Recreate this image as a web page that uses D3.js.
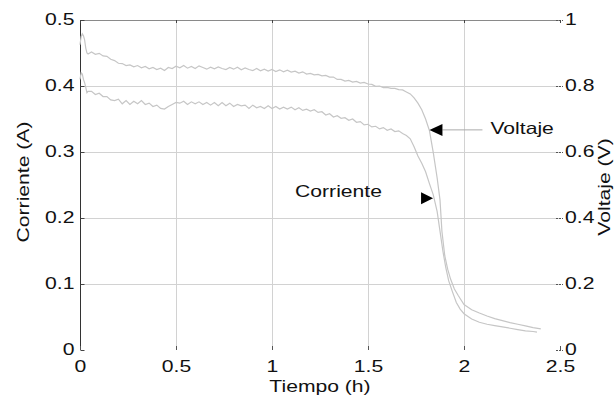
<!DOCTYPE html>
<html>
<head>
<meta charset="utf-8">
<script src="https://cdn.jsdelivr.net/npm/d3@7"></script>
<style>
  html, body { margin: 0; padding: 0; background: #fff; }
  svg { display: block; font-family: "Liberation Sans", Arial, sans-serif; }
</style>
</head>
<body>
<svg id="chart" width="614" height="400"></svg>
<script>
// Battery discharge test: current (left axis) and voltage (right axis) vs. time

const timeTicks = [0, 0.5, 1, 1.5, 2, 2.5];
const currentTicks = [0, 0.1, 0.2, 0.3, 0.4, 0.5];
const voltageTicks = [0, 0.2, 0.4, 0.6, 0.8, 1];

const voltTime = [0, 0.006, 0.012, 0.018, 0.024, 0.03, 0.036, 0.042, 0.06, 0.08, 0.10, 0.12, 0.14, 0.16, 0.18, 0.20, 0.22, 0.24, 0.26, 0.28, 0.30, 0.32, 0.34, 0.36, 0.38, 0.40, 0.42, 0.44, 0.46, 0.48, 0.50, 0.52, 0.54, 0.56, 0.58, 0.60, 0.62, 0.64, 0.66, 0.68, 0.70, 0.72, 0.74, 0.76, 0.78, 0.80, 0.82, 0.84, 0.86, 0.88, 0.90, 0.92, 0.94, 0.96, 0.98, 1.00, 1.02, 1.04, 1.06, 1.08, 1.10, 1.12, 1.14, 1.16, 1.18, 1.20, 1.22, 1.24, 1.26, 1.28, 1.30, 1.32, 1.34, 1.36, 1.38, 1.40, 1.42, 1.44, 1.46, 1.48, 1.50, 1.52, 1.54, 1.56, 1.58, 1.60, 1.62, 1.64, 1.66, 1.68, 1.70, 1.72, 1.74, 1.76, 1.78, 1.80, 1.82, 1.84, 1.86, 1.875, 1.885, 1.90, 1.915, 1.93, 1.95, 1.97, 2.00, 2.04, 2.08, 2.12, 2.16, 2.20, 2.24, 2.28, 2.32, 2.36, 2.40];
const voltValue = [0.925, 0.95, 0.958, 0.952, 0.94, 0.915, 0.9, 0.897,
  0.903, 0.896, 0.899, 0.891, 0.89, 0.881, 0.877, 0.869, 0.868, 0.862, 0.864, 0.858, 0.862, 0.855, 0.859, 0.852, 0.856, 0.85, 0.854, 0.847,
  0.856, 0.853, 0.86, 0.855, 0.862, 0.854, 0.859, 0.853, 0.861, 0.856, 0.851, 0.857, 0.852, 0.858, 0.853, 0.85, 0.856, 0.851, 0.857, 0.849,
  0.855, 0.85, 0.847, 0.853, 0.846, 0.851, 0.845, 0.85, 0.844, 0.849, 0.843, 0.848, 0.842, 0.845, 0.839, 0.843, 0.836, 0.838, 0.834, 0.835,
  0.831, 0.832, 0.827, 0.827, 0.82, 0.82, 0.815, 0.817, 0.812, 0.814, 0.809, 0.811, 0.806, 0.805, 0.799, 0.8, 0.795, 0.796, 0.793, 0.793,
  0.789, 0.788, 0.782,
  0.776, 0.764, 0.748, 0.728, 0.7, 0.665, 0.598, 0.522, 0.455, 0.36, 0.285, 0.245, 0.215, 0.185, 0.165, 0.138, 0.122, 0.112, 0.103, 0.095, 0.089, 0.083, 0.078, 0.073, 0.068, 0.064];

const currTime = [0, 0.006, 0.012, 0.018, 0.024, 0.03, 0.036, 0.042, 0.06, 0.08, 0.10, 0.12, 0.14, 0.16, 0.18, 0.20, 0.22, 0.24, 0.26, 0.28, 0.30, 0.32, 0.34, 0.36, 0.38, 0.40, 0.42, 0.44, 0.46, 0.48, 0.50, 0.52, 0.54, 0.56, 0.58, 0.60, 0.62, 0.64, 0.66, 0.68, 0.70, 0.72, 0.74, 0.76, 0.78, 0.80, 0.82, 0.84, 0.86, 0.88, 0.90, 0.92, 0.94, 0.96, 0.98, 1.00, 1.02, 1.04, 1.06, 1.08, 1.10, 1.12, 1.14, 1.16, 1.18, 1.20, 1.22, 1.24, 1.26, 1.28, 1.30, 1.32, 1.34, 1.36, 1.38, 1.40, 1.42, 1.44, 1.46, 1.48, 1.50, 1.52, 1.54, 1.56, 1.58, 1.60, 1.62, 1.64, 1.66, 1.68, 1.70, 1.72, 1.74, 1.76, 1.78, 1.80, 1.82, 1.84, 1.86, 1.875, 1.89, 1.905, 1.92, 1.94, 1.96, 1.98, 2.00, 2.04, 2.08, 2.12, 2.16, 2.20, 2.24, 2.28, 2.32, 2.36, 2.38];
const currValue = [0.41, 0.42, 0.418, 0.41, 0.405, 0.398, 0.39, 0.392,
  0.392, 0.387, 0.389, 0.384, 0.384, 0.379, 0.378, 0.38, 0.373, 0.378, 0.372, 0.377, 0.373, 0.378, 0.372, 0.374, 0.369, 0.371, 0.366, 0.365,
  0.369, 0.372, 0.375, 0.374, 0.377, 0.372, 0.376, 0.373, 0.376, 0.372, 0.375, 0.371, 0.375, 0.37, 0.375, 0.37, 0.374, 0.369, 0.372, 0.37,
  0.371, 0.366, 0.371, 0.367, 0.369, 0.366, 0.37, 0.366, 0.369, 0.365, 0.368, 0.365, 0.368, 0.364, 0.367, 0.363, 0.365, 0.362, 0.364, 0.36,
  0.361, 0.356, 0.358, 0.353, 0.355, 0.351, 0.352, 0.348, 0.35, 0.345, 0.346, 0.341, 0.342, 0.338, 0.339, 0.335, 0.337, 0.333, 0.335, 0.331,
  0.332, 0.328, 0.325,
  0.32, 0.308, 0.294, 0.283, 0.27, 0.252, 0.235, 0.21, 0.18, 0.15, 0.125, 0.105, 0.088, 0.072, 0.062, 0.055, 0.047, 0.042, 0.039, 0.037, 0.035, 0.033, 0.031, 0.029, 0.028, 0.027];

const svg = d3.select("#chart");
const plotLeft = 80, plotRight = 560, plotTop = 20, plotBottom = 350;
const fontSize = 16.5, fontStretch = 1.28;

const x = d3.scaleLinear().domain([0, 2.5]).range([plotLeft, plotRight]);
const yI = d3.scaleLinear().domain([0, 0.5]).range([plotBottom, plotTop]);
const yV = d3.scaleLinear().domain([0, 1]).range([plotBottom, plotTop]);

const fmt = d => d === 0 ? "0" : (Number.isInteger(d) ? String(d) : String(+d.toFixed(1)));

// grid
const grid = svg.append("g").attr("stroke", "#d2d2d2").attr("stroke-width", 1);
timeTicks.slice(1, -1).forEach(t => {
  grid.append("line").attr("x1", x(t) + 0.5).attr("x2", x(t) + 0.5).attr("y1", plotTop).attr("y2", plotBottom);
});
currentTicks.slice(1, -1).forEach(c => {
  grid.append("line").attr("x1", plotLeft).attr("x2", plotRight).attr("y1", yI(c) + 0.5).attr("y2", yI(c) + 0.5);
});

// top border and left axis line
svg.append("line").attr("x1", plotLeft).attr("x2", plotRight).attr("y1", plotTop + 0.5).attr("y2", plotTop + 0.5)
  .attr("stroke", "#8a8a8a");
svg.append("line").attr("x1", plotLeft + 0.5).attr("x2", plotLeft + 0.5).attr("y1", plotTop).attr("y2", plotBottom)
  .attr("stroke", "#333");

// axes
const axFont = g => g.selectAll("text").attr("font-size", fontSize).attr("fill", "#111")
  .attr("font-family", "'Liberation Sans', Arial, sans-serif");

const axL = svg.append("g").attr("transform", `translate(${plotLeft + 0.5},0)`)
  .call(d3.axisLeft(yI).tickValues(currentTicks).tickFormat(fmt).tickSizeInner(-4).tickSizeOuter(0).tickPadding(6));
axL.select(".domain").remove();
axL.selectAll("line").attr("stroke", "#444");
axFont(axL);
axL.selectAll("text").attr("dy", "0.26em");

const axR = svg.append("g").attr("transform", `translate(${plotRight},0)`)
  .call(d3.axisRight(yV).tickValues(voltageTicks).tickFormat(fmt).tickSizeInner(3).tickSizeOuter(0).tickPadding(2));
axR.select(".domain").remove();
axR.selectAll("line").attr("stroke", "#555").attr("x1", -4).attr("stroke-dasharray", "2,1");
axFont(axR);
axR.selectAll("text").attr("dy", "0.26em");

const axB = svg.append("g").attr("transform", `translate(0,${plotBottom})`)
  .call(d3.axisBottom(x).tickValues(timeTicks).tickFormat(fmt).tickSizeInner(-4).tickSizeOuter(0).tickPadding(10));
axB.select(".domain").remove();
axB.selectAll("line").attr("stroke", "#555");
axFont(axB);
axB.selectAll("text").attr("dy", "0.71em");

const axT = svg.append("g").attr("transform", `translate(0,${plotTop})`)
  .call(d3.axisTop(x).tickValues(timeTicks).tickFormat("").tickSizeInner(-3).tickSizeOuter(0));
axT.select(".domain").remove();
axT.selectAll("line").attr("stroke", "#444");

// series
const lineV = d3.line().x(d => x(d[0])).y(d => yV(d[1]));
const lineI = d3.line().x(d => x(d[0])).y(d => yI(d[1]));

svg.append("path").datum(d3.zip(voltTime, voltValue)).attr("d", lineV)
  .attr("fill", "none").attr("stroke", "#c6c6c6").attr("stroke-width", 1.2);
svg.append("path").datum(d3.zip(currTime, currValue)).attr("d", lineI)
  .attr("fill", "none").attr("stroke", "#c6c6c6").attr("stroke-width", 1.2);

// axis titles
svg.append("text").attr("x", x(1.25)).attr("y", 392).attr("text-anchor", "middle")
  .attr("font-size", fontSize).attr("fill", "#111").text("Tiempo (h)");
svg.append("text").attr("transform", `translate(29,182) rotate(-90)`).attr("text-anchor", "middle")
  .attr("font-size", fontSize).attr("fill", "#111").text("Corriente (A)");
svg.append("text").attr("transform", `translate(610,${yV(0.5) + 2}) rotate(-90)`).attr("text-anchor", "middle")
  .attr("font-size", fontSize).attr("fill", "#111").text("Voltaje (V)");

// annotations
const vTip = [x(1.82), yV(0.667)];
svg.append("line").attr("x1", vTip[0] + 13).attr("x2", vTip[0] + 53).attr("y1", vTip[1]).attr("y2", vTip[1])
  .attr("stroke", "#aaa");
svg.append("path").attr("d", `M${vTip[0]},${vTip[1]} L${vTip[0] + 13},${vTip[1] - 6} L${vTip[0] + 13},${vTip[1] + 6} Z`)
  .attr("fill", "#000");
svg.append("text").attr("x", vTip[0] + 61).attr("y", vTip[1] + 4).attr("font-size", fontSize).attr("fill", "#111").text("Voltaje");

const iTip = [x(1.839), yI(0.23)];
svg.append("path").attr("d", `M${iTip[0]},${iTip[1]} L${iTip[0] - 12},${iTip[1] - 6} L${iTip[0] - 12},${iTip[1] + 6} Z`)
  .attr("fill", "#000");
svg.append("text").attr("x", iTip[0] - 138).attr("y", iTip[1] - 1).attr("font-size", fontSize).attr("fill", "#111").text("Corriente");

// the lettering is set wide: stretch every label horizontally
svg.selectAll("text").each(function () {
  const len = this.getComputedTextLength();
  if (len > 0) {
    d3.select(this).attr("textLength", (len * fontStretch).toFixed(1)).attr("lengthAdjust", "spacingAndGlyphs");
  }
});
</script>
</body>
</html>
